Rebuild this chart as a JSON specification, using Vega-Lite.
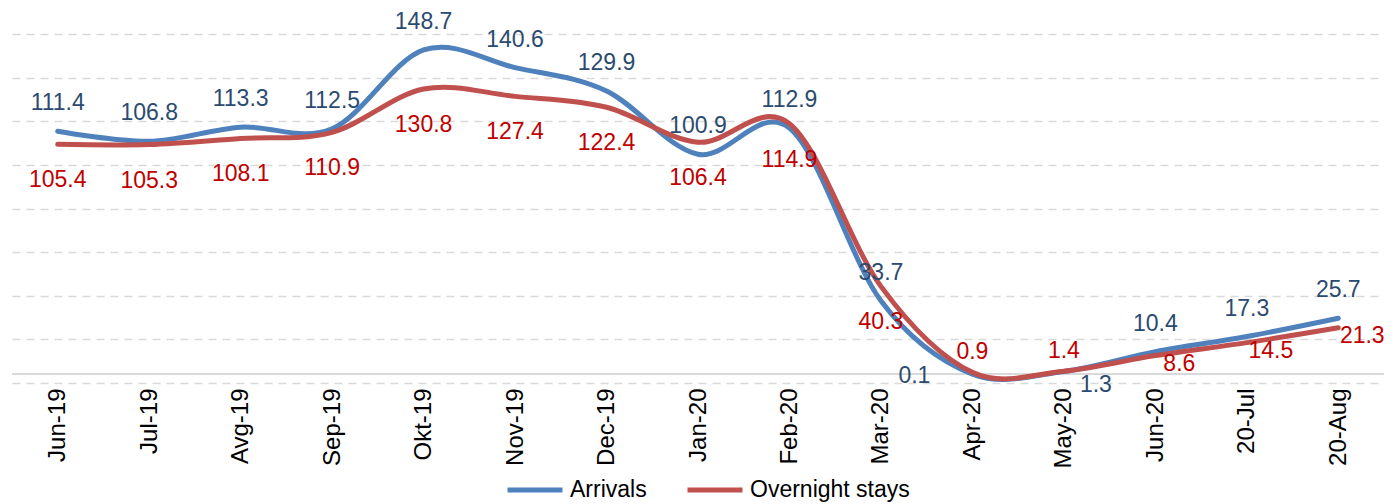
{
  "$schema": "https://vega.github.io/schema/vega-lite/v6.json",
  "width": 1372,
  "height": 349,
  "autosize": {"type": "none"},
  "padding": {"left": 12, "top": 34, "right": 13, "bottom": 121},
  "background": "white",
  "config": {"view": {"stroke": null}, "font": "Liberation Sans"},
  "data": {
    "values": [
      {"month": "Jun-19", "series": "Arrivals", "value": 111.4},
      {"month": "Jul-19", "series": "Arrivals", "value": 106.8},
      {"month": "Avg-19", "series": "Arrivals", "value": 113.3},
      {"month": "Sep-19", "series": "Arrivals", "value": 112.5},
      {"month": "Okt-19", "series": "Arrivals", "value": 148.7},
      {"month": "Nov-19", "series": "Arrivals", "value": 140.6},
      {"month": "Dec-19", "series": "Arrivals", "value": 129.9},
      {"month": "Jan-20", "series": "Arrivals", "value": 100.9},
      {"month": "Feb-20", "series": "Arrivals", "value": 112.9},
      {"month": "Mar-20", "series": "Arrivals", "value": 33.7},
      {"month": "Apr-20", "series": "Arrivals", "value": 0.1},
      {"month": "May-20", "series": "Arrivals", "value": 1.3},
      {"month": "Jun-20", "series": "Arrivals", "value": 10.4},
      {"month": "20-Jul", "series": "Arrivals", "value": 17.3},
      {"month": "20-Aug", "series": "Arrivals", "value": 25.7},
      {"month": "Jun-19", "series": "Overnight stays", "value": 105.4},
      {"month": "Jul-19", "series": "Overnight stays", "value": 105.3},
      {"month": "Avg-19", "series": "Overnight stays", "value": 108.1},
      {"month": "Sep-19", "series": "Overnight stays", "value": 110.9},
      {"month": "Okt-19", "series": "Overnight stays", "value": 130.8},
      {"month": "Nov-19", "series": "Overnight stays", "value": 127.4},
      {"month": "Dec-19", "series": "Overnight stays", "value": 122.4},
      {"month": "Jan-20", "series": "Overnight stays", "value": 106.4},
      {"month": "Feb-20", "series": "Overnight stays", "value": 114.9},
      {"month": "Mar-20", "series": "Overnight stays", "value": 40.3},
      {"month": "Apr-20", "series": "Overnight stays", "value": 0.9},
      {"month": "May-20", "series": "Overnight stays", "value": 1.4},
      {"month": "Jun-20", "series": "Overnight stays", "value": 8.6},
      {"month": "20-Jul", "series": "Overnight stays", "value": 14.5},
      {"month": "20-Aug", "series": "Overnight stays", "value": 21.3}
    ]
  },
  "encoding": {
    "x": {"field": "month", "type": "ordinal", "sort": null},
    "y": {"field": "value", "type": "quantitative"}
  },
  "layer": [
    {
      "mark": {"type": "rule", "color": "#d9d9d9", "strokeWidth": 1.5},
      "encoding": {"x": null, "y": {"datum": 0, "type": "quantitative"}}
    },
    {
      "mark": {"type": "line", "interpolate": "cardinal", "strokeWidth": 5, "strokeCap": "round"},
      "encoding": {
        "x": {
          "field": "month", "type": "ordinal", "sort": null,
          "scale": {"type": "point", "padding": 0.5},
          "axis": {"title": null, "labelAngle": -90, "labelFontSize": 24, "labelColor": "#000000", "domain": false, "ticks": false, "labelPadding": 5, "grid": false}
        },
        "y": {
          "field": "value", "type": "quantitative",
          "scale": {"domain": [-4, 156], "nice": false, "zero": false},
          "axis": {"title": null, "labels": false, "ticks": false, "domain": false, "grid": true, "values": [-4, 16, 36, 56, 76, 96, 116, 136, 156], "gridDash": [8, 6], "gridColor": "#d9d9d9", "gridWidth": 1.5}
        },
        "color": {
          "field": "series", "type": "nominal",
          "scale": {"domain": ["Arrivals", "Overnight stays"], "range": ["#4F81BD", "#C0504D"]},
          "legend": {"orient": "none", "direction": "horizontal", "legendX": 493, "legendY": 426, "title": null, "symbolType": "stroke", "symbolSize": 3025, "symbolStrokeWidth": 5, "labelFontSize": 23, "labelFont": "Liberation Sans", "labelLimit": 400, "labelColor": "#000000", "labelOffset": 5, "columnPadding": 30, "padding": 0}
        }
      }
    },
    {
      "transform": [{"filter": "datum.series === 'Arrivals' && datum.value >= 5"}],
      "mark": {"type": "text", "fontSize": 23, "dy": -28, "color": "#2B4A6F"},
      "encoding": {"text": {"field": "value", "type": "quantitative", "format": ".1f"}}
    },
    {
      "transform": [{"filter": "datum.series === 'Arrivals' && datum.month === 'Apr-20'"}],
      "mark": {"type": "text", "fontSize": 23, "dx": -58, "dy": 2, "color": "#2B4A6F"},
      "encoding": {"text": {"field": "value", "type": "quantitative", "format": ".1f"}}
    },
    {
      "transform": [{"filter": "datum.series === 'Arrivals' && datum.month === 'May-20'"}],
      "mark": {"type": "text", "fontSize": 23, "dx": 32, "dy": 14, "color": "#2B4A6F"},
      "encoding": {"text": {"field": "value", "type": "quantitative", "format": ".1f"}}
    },
    {
      "transform": [{"filter": "datum.series === 'Overnight stays' && datum.value >= 30"}],
      "mark": {"type": "text", "fontSize": 23, "dy": 36, "color": "#C00000"},
      "encoding": {"text": {"field": "value", "type": "quantitative", "format": ".1f"}}
    },
    {
      "transform": [{"filter": "datum.series === 'Overnight stays' && datum.value < 5"}],
      "mark": {"type": "text", "fontSize": 23, "dy": -20, "color": "#C00000"},
      "encoding": {"text": {"field": "value", "type": "quantitative", "format": ".1f"}}
    },
    {
      "transform": [{"filter": "datum.series === 'Overnight stays' && datum.value >= 5 && datum.value < 30"}],
      "mark": {"type": "text", "fontSize": 23, "dx": 24, "dy": 8, "color": "#C00000"},
      "encoding": {"text": {"field": "value", "type": "quantitative", "format": ".1f"}}
    }
  ]
}
